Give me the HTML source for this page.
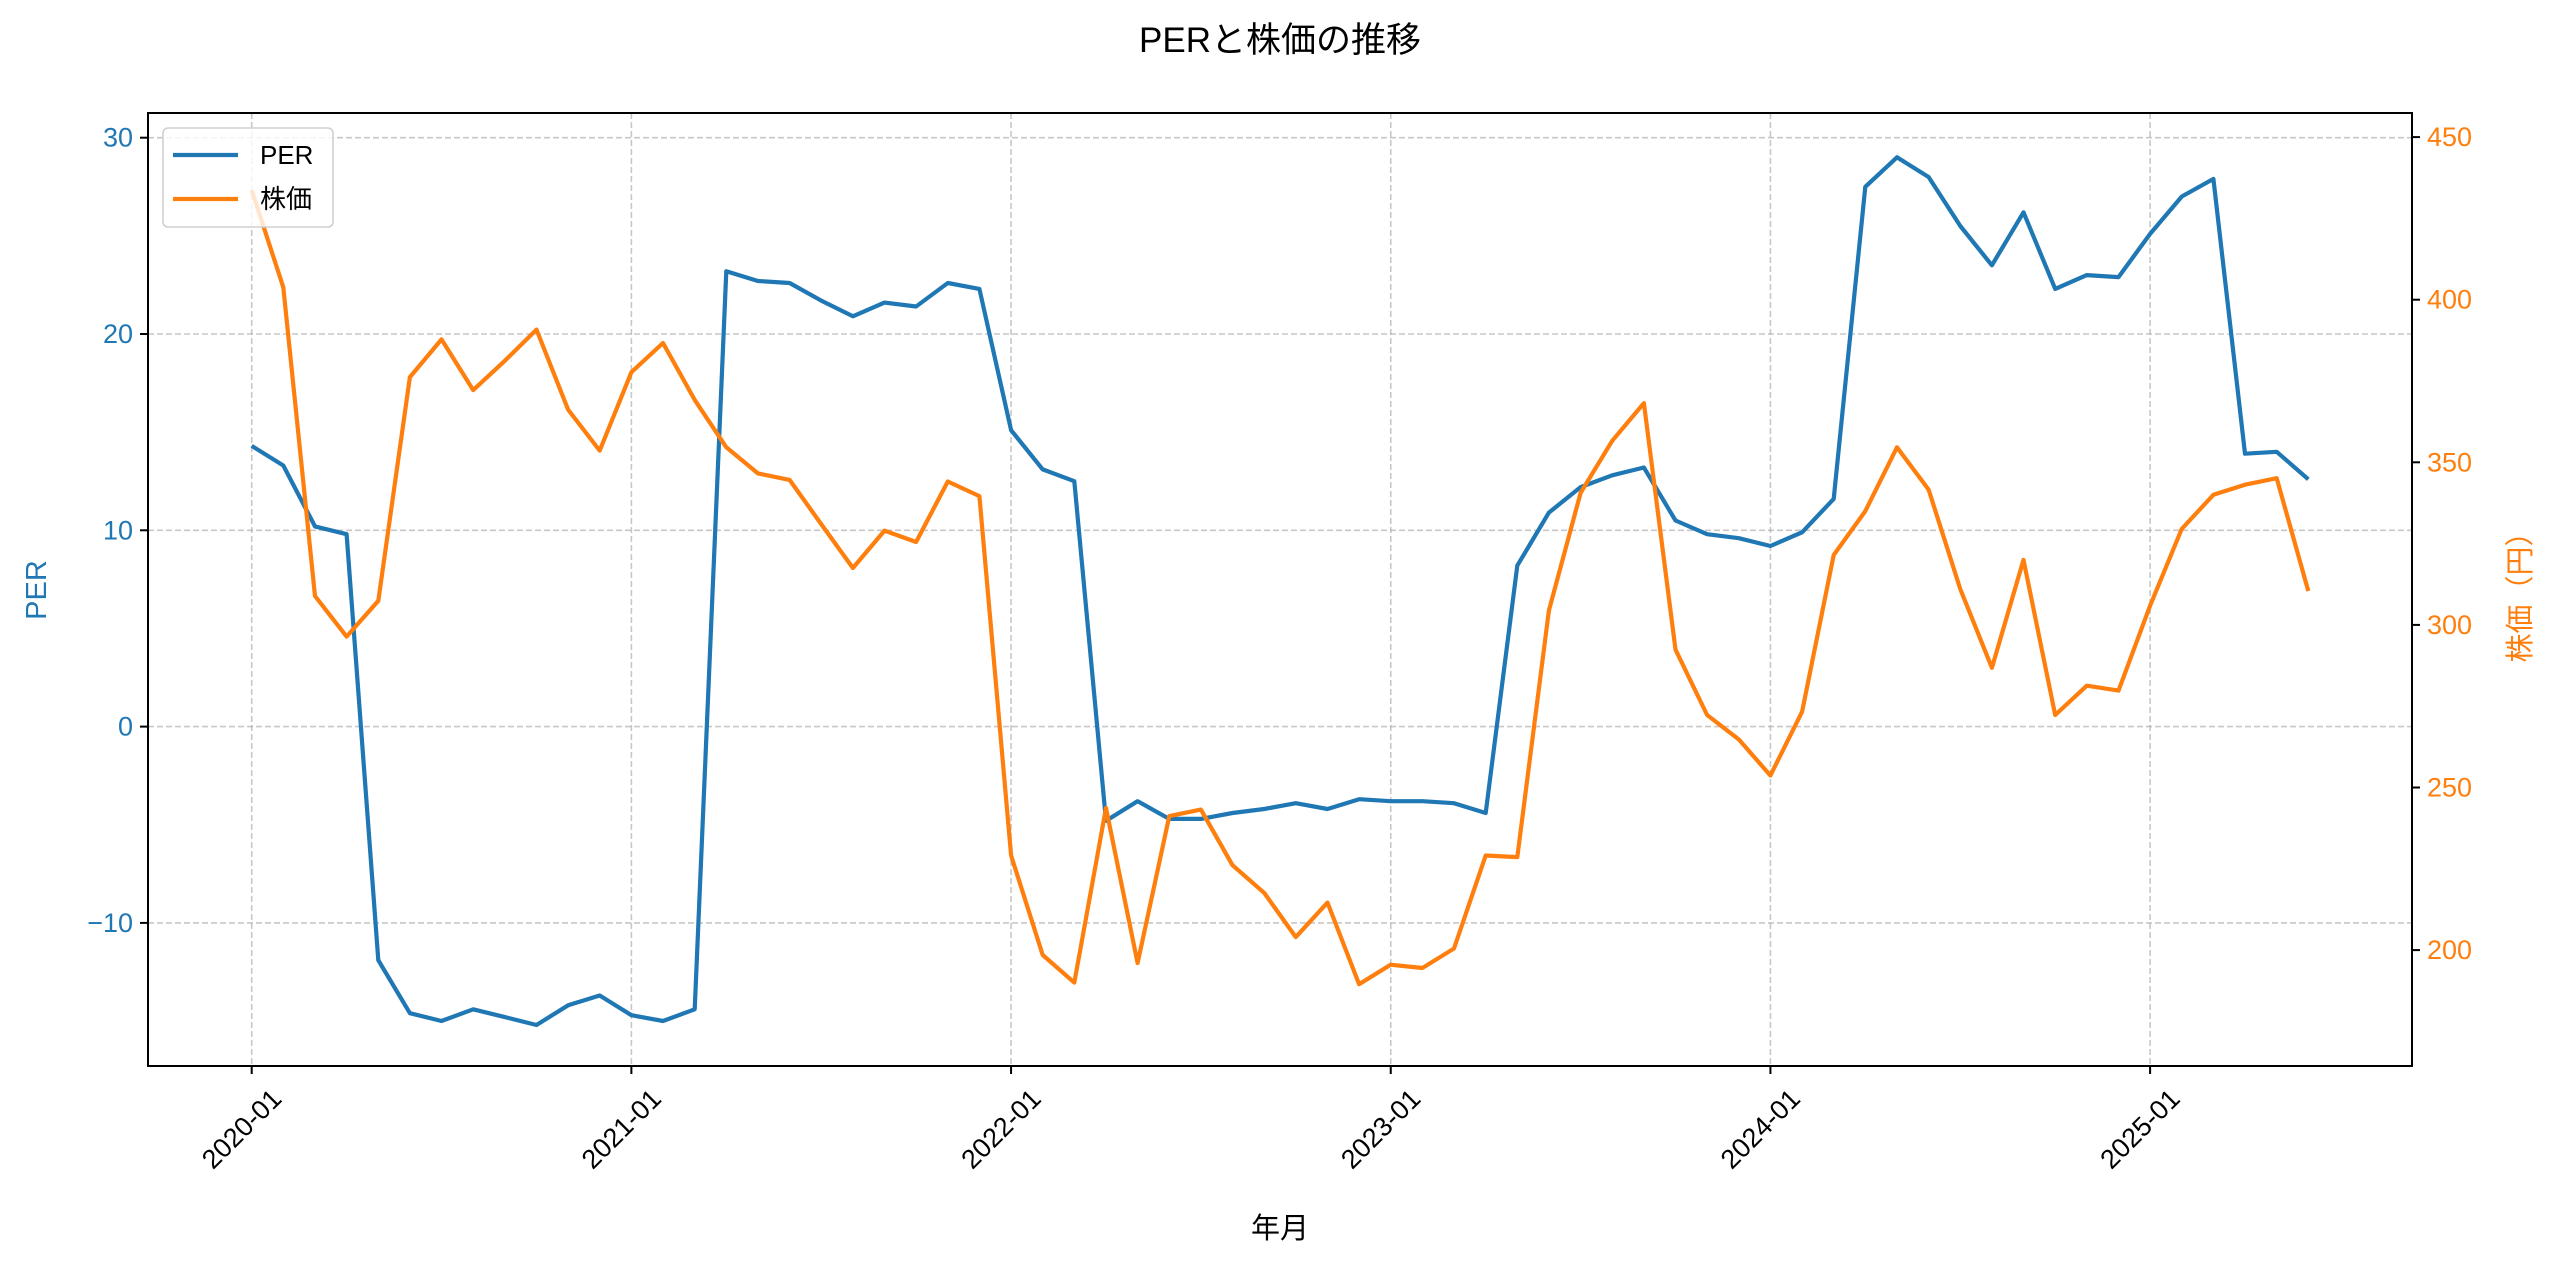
<!DOCTYPE html>
<html><head><meta charset="utf-8"><style>
html,body{margin:0;padding:0;background:#fff;}
svg text{font-family:"Liberation Sans","Noto Sans CJK JP",sans-serif;}
</style></head><body>
<svg id="s" width="2560" height="1269" viewBox="0 0 2560 1269" xmlns="http://www.w3.org/2000/svg"></svg>
<script>
const per=[14.3,13.3,10.2,9.8,-11.9,-14.6,-15.0,-14.4,-14.8,-15.2,-14.2,-13.7,-14.7,-15.0,-14.4,23.2,22.7,22.6,21.7,20.9,21.6,21.4,22.6,22.3,15.1,13.1,12.5,-4.8,-3.8,-4.7,-4.7,-4.4,-4.2,-3.9,-4.2,-3.7,-3.8,-3.8,-3.9,-4.4,8.2,10.9,12.2,12.8,13.2,10.5,9.8,9.6,9.2,9.9,11.6,27.5,29.0,28.0,25.5,23.5,26.2,22.3,23.0,22.9,25.1,27.0,27.9,13.9,14.0,12.6];
const pr=[433.7,403.8,308.9,296.4,307.4,376.2,387.8,372.2,381.2,390.8,366.2,353.6,377.7,386.7,369.2,354.6,346.6,344.6,331.0,317.5,329.0,325.5,344.1,339.6,229.1,198.5,190,243.7,196,241.2,243.2,226.1,217.6,204,214.6,189.5,195.5,194.5,200.5,229.1,228.6,304.4,340.6,356.6,368.2,292.4,272.3,264.8,253.7,273.3,321.5,335,354.6,341.6,311,286.8,320,272.3,281.3,279.8,305.9,329.5,340,343.1,345.1,310.4];
const L=148,T=113,R=2412,B=1066;
const X=i=>251.7+i*31.64;
const YP=v=>726.6-v*19.63;
const YR=p=>137.1+(450-p)*3.252;
let h='';
for(let y=0;y<6;y++){const x=X(y*12);h+=`<line x1="${x}" y1="${T}" x2="${x}" y2="${B}" stroke="#b0b0b0" stroke-width="1.6" stroke-dasharray="6,3" opacity="0.7"/>`;}
for(let v=-10;v<=30;v+=10){const y=YP(v);h+=`<line x1="${L}" y1="${y}" x2="${R}" y2="${y}" stroke="#b0b0b0" stroke-width="1.6" stroke-dasharray="6,3" opacity="0.7"/>`;}
h+=`<polyline fill="none" stroke="#1f77b4" stroke-width="4.2" stroke-linejoin="round" points="${per.map((v,i)=>X(i).toFixed(1)+','+YP(v).toFixed(1)).join(' ')}"/>`;
h+=`<polyline fill="none" stroke="#ff7f0e" stroke-width="4.2" stroke-linejoin="round" points="${pr.map((v,i)=>X(i).toFixed(1)+','+YR(v).toFixed(1)).join(' ')}"/>`;
h+=`<rect x="${L}" y="${T}" width="${R-L}" height="${B-T}" fill="none" stroke="#000" stroke-width="2"/>`;
for(let v=-10;v<=30;v+=10){const y=YP(v);h+=`<line x1="${L-8}" y1="${y}" x2="${L}" y2="${y}" stroke="#000" stroke-width="2"/><text x="${L-15}" y="${y+9}" font-size="27" fill="#1f77b4" text-anchor="end">${v<0?'−'+(-v):v}</text>`;}
for(let p=200;p<=450;p+=50){const y=YR(p);h+=`<line x1="${R}" y1="${y}" x2="${R+8}" y2="${y}" stroke="#000" stroke-width="2"/><text x="${R+15}" y="${y+9}" font-size="27" fill="#ff7f0e">${p}</text>`;}
const yrs=['2020-01','2021-01','2022-01','2023-01','2024-01','2025-01'];
yrs.forEach((s,k)=>{const x=X(k*12)-10;h+=`<text x="${x}" y="${B+72}" font-size="27" text-anchor="middle" transform="rotate(-45 ${x} ${B+63})">${s}</text>`;h+=`<line x1="${X(k*12)}" y1="${B}" x2="${X(k*12)}" y2="${B+8}" stroke="#000" stroke-width="2"/>`;});
h+=`<text x="1280" y="1238" font-size="29" text-anchor="middle">年月</text>`;
h+=`<text x="1280" y="52" font-size="35" text-anchor="middle">PERと株価の推移</text>`;
h+=`<text font-size="29" fill="#1f77b4" text-anchor="middle" transform="translate(46 590) rotate(-90)">PER</text>`;
h+=`<text font-size="29" fill="#ff7f0e" text-anchor="middle" transform="translate(2530 590) rotate(-90)">株価（円）</text>`;
h+=`<rect x="163" y="128" width="170" height="99" rx="5" fill="#fff" fill-opacity="0.8" stroke="#d0d0d0" stroke-width="1.6"/>`;
h+=`<line x1="173" y1="155" x2="238" y2="155" stroke="#1f77b4" stroke-width="4.2"/><text x="260" y="164" font-size="26">PER</text>`;
h+=`<line x1="173" y1="199" x2="238" y2="199" stroke="#ff7f0e" stroke-width="4.2"/><text x="260" y="208" font-size="26">株価</text>`;
document.getElementById('s').innerHTML=h;
</script>
</body></html>
